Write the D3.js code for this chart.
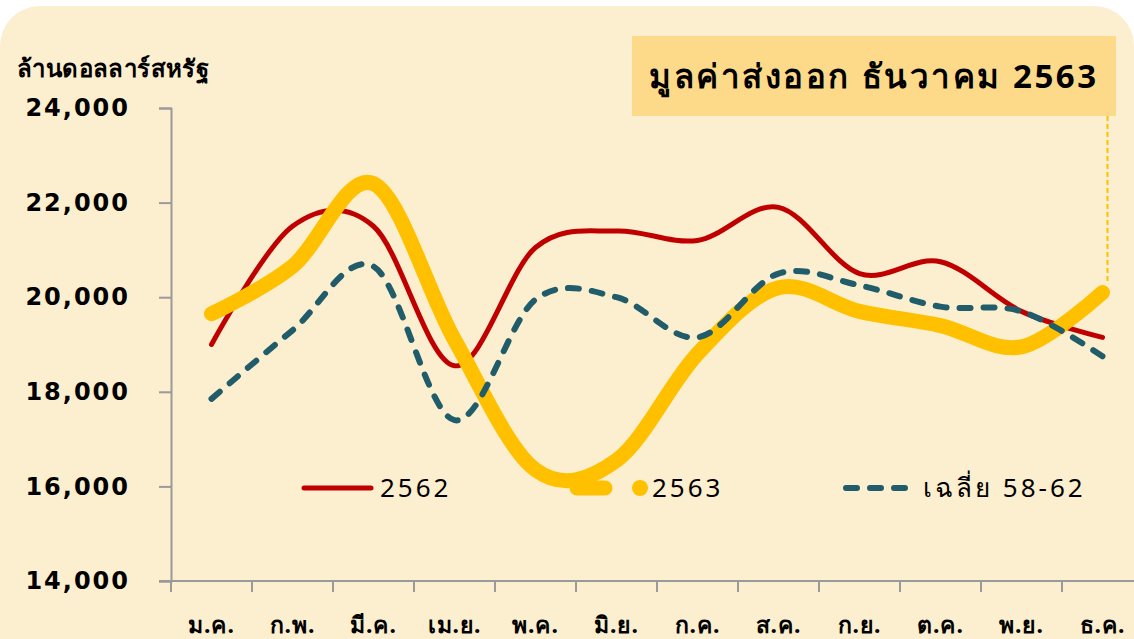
<!DOCTYPE html>
<html>
<head>
<meta charset="utf-8">
<script src="https://cdn.jsdelivr.net/npm/d3@7/dist/d3.min.js"></script>
<style>
  html, body { margin: 0; padding: 0; background: #ffffff; }
  svg { display: block; }
  text { font-family: "Noto Sans", "DejaVu Sans", sans-serif; }
</style>
</head>
<body>
<svg id="chart" width="1134" height="639"></svg>
<script>
// ---- data ----
const months = ["ม.ค.", "ก.พ.", "มี.ค.", "เม.ย.", "พ.ค.", "มิ.ย.", "ก.ค.", "ส.ค.", "ก.ย.", "ต.ค.", "พ.ย.", "ธ.ค."];
const y2562 = [19000, 21500, 21500, 18550, 21050, 21400, 21200, 21900, 20500, 20750, 19700, 19150];
const y2563 = [19650, 20650, 22400, 19100, 16350, 16550, 18800, 20200, 19700, 19400, 18950, 20100];
const avg5862 = [17850, 19300, 20650, 17400, 19950, 20000, 19150, 20500, 20250, 19800, 19700, 18750];
const yTicks = [14000, 16000, 18000, 20000, 22000, 24000];
const seriesNames = ["2562", "2563", "เฉลี่ย 58-62"];
const yTitle = "ล้านดอลลาร์สหรัฐ";
const chartTitle = "มูลค่าส่งออก ธันวาคม 2563";

const svg = d3.select("#chart");

// background panel
svg.append("rect").attr("x", 0).attr("y", 6).attr("width", 1134).attr("height", 700)
  .attr("rx", 40).attr("ry", 40).attr("fill", "#FCEFCF");

const x = d3.scaleBand().domain(months).range([171, 171 + 12 * 81]).padding(0);
const y = d3.scaleLinear().domain([14000, 24000]).range([581, 108]);
const cx = m => x(m) + x.bandwidth() / 2;

// y axis
const yAxis = d3.axisLeft(y).tickValues(yTicks).tickSize(12).tickPadding(29)
  .tickFormat(d3.format(","));
const gy = svg.append("g").attr("transform", "translate(171,0)").call(yAxis);
gy.select(".domain").attr("stroke", "#9a9a9a").attr("stroke-width", 2);
gy.selectAll(".tick line").attr("stroke", "#9a9a9a").attr("stroke-width", 2);
gy.selectAll(".tick text").attr("fill", "#000").style("font-family", "'DejaVu Sans', sans-serif")
  .style("font-weight", "bold").style("font-size", "24px").style("letter-spacing", "2px");

// x axis
const gx = svg.append("g").attr("transform", "translate(0,581)")
  .call(d3.axisBottom(x).tickSize(0).tickPadding(36));
gx.select(".domain").remove();
gx.append("line").attr("x1", 159).attr("x2", 1134).attr("y1", 0).attr("y2", 0)
  .attr("stroke", "#9a9a9a").attr("stroke-width", 2);
gx.selectAll(".bound").data(d3.range(12)).enter().append("line")
  .attr("x1", i => x(months[i])).attr("x2", i => x(months[i]))
  .attr("y1", 0).attr("y2", 11).attr("stroke", "#9a9a9a").attr("stroke-width", 2);
gx.selectAll(".tick text").attr("fill", "#000").style("font-weight", "bold")
  .style("font-size", "23px").style("letter-spacing", "1px");

// y title
svg.append("text").attr("x", 17).attr("y", 77).text(yTitle)
  .style("font-weight", "bold").style("font-size", "24px").style("letter-spacing", "0.4px").attr("fill", "#000");

// lines
const line = d3.line().x((d, i) => cx(months[i])).y(d => y(d)).curve(d3.curveCardinal.tension(0));
svg.append("path").attr("d", line(y2562)).attr("fill", "none").attr("stroke", "#C00000")
  .attr("stroke-width", 5).attr("stroke-linecap", "round").attr("stroke-linejoin", "round");
svg.append("path").attr("d", line(y2563)).attr("fill", "none").attr("stroke", "#FFC000")
  .attr("stroke-width", 15).attr("stroke-linecap", "round").attr("stroke-linejoin", "round");
svg.append("path").attr("d", line(avg5862)).attr("fill", "none").attr("stroke", "#215C6B")
  .attr("stroke-width", 6).attr("stroke-linecap", "round").attr("stroke-dasharray", "11,13");

// title box
svg.append("rect").attr("x", 632).attr("y", 36).attr("width", 484).attr("height", 80).attr("fill", "#FDD98A");
svg.append("text").attr("x", 874).attr("y", 88).attr("text-anchor", "middle").text(chartTitle)
  .style("font-weight", "bold").style("font-size", "33px").style("letter-spacing", "2.5px").attr("fill", "#000");

// dashed connector from title box to last point
const lastX = cx(months[11]) + 5;
svg.append("line").attr("x1", lastX).attr("x2", lastX).attr("y1", 116).attr("y2", y(y2563[11]) - 10)
  .attr("stroke", "#FFC000").attr("stroke-width", 2).attr("stroke-dasharray", "5,3");

// legend
const ly = 488;
svg.append("line").attr("x1", 304).attr("x2", 371).attr("y1", ly).attr("y2", ly)
  .attr("stroke", "#C00000").attr("stroke-width", 5).attr("stroke-linecap", "round");
svg.append("line").attr("x1", 577).attr("x2", 605).attr("y1", ly).attr("y2", ly)
  .attr("stroke", "#FFC000").attr("stroke-width", 15).attr("stroke-linecap", "round");
svg.append("circle").attr("cx", 640).attr("cy", ly).attr("r", 8).attr("fill", "#FFC000");
svg.append("line").attr("x1", 846).attr("x2", 905).attr("y1", ly).attr("y2", ly)
  .attr("stroke", "#215C6B").attr("stroke-width", 6).attr("stroke-linecap", "round").attr("stroke-dasharray", "11,13");
const legTextX = [380, 652, 923];
seriesNames.forEach((s, i) => {
  svg.append("text").attr("x", legTextX[i]).attr("y", ly).attr("dy", "0.36em").text(s)
    .style("font-size", "26px").style("letter-spacing", "3px").attr("fill", "#000");
});
</script>
</body>
</html>
